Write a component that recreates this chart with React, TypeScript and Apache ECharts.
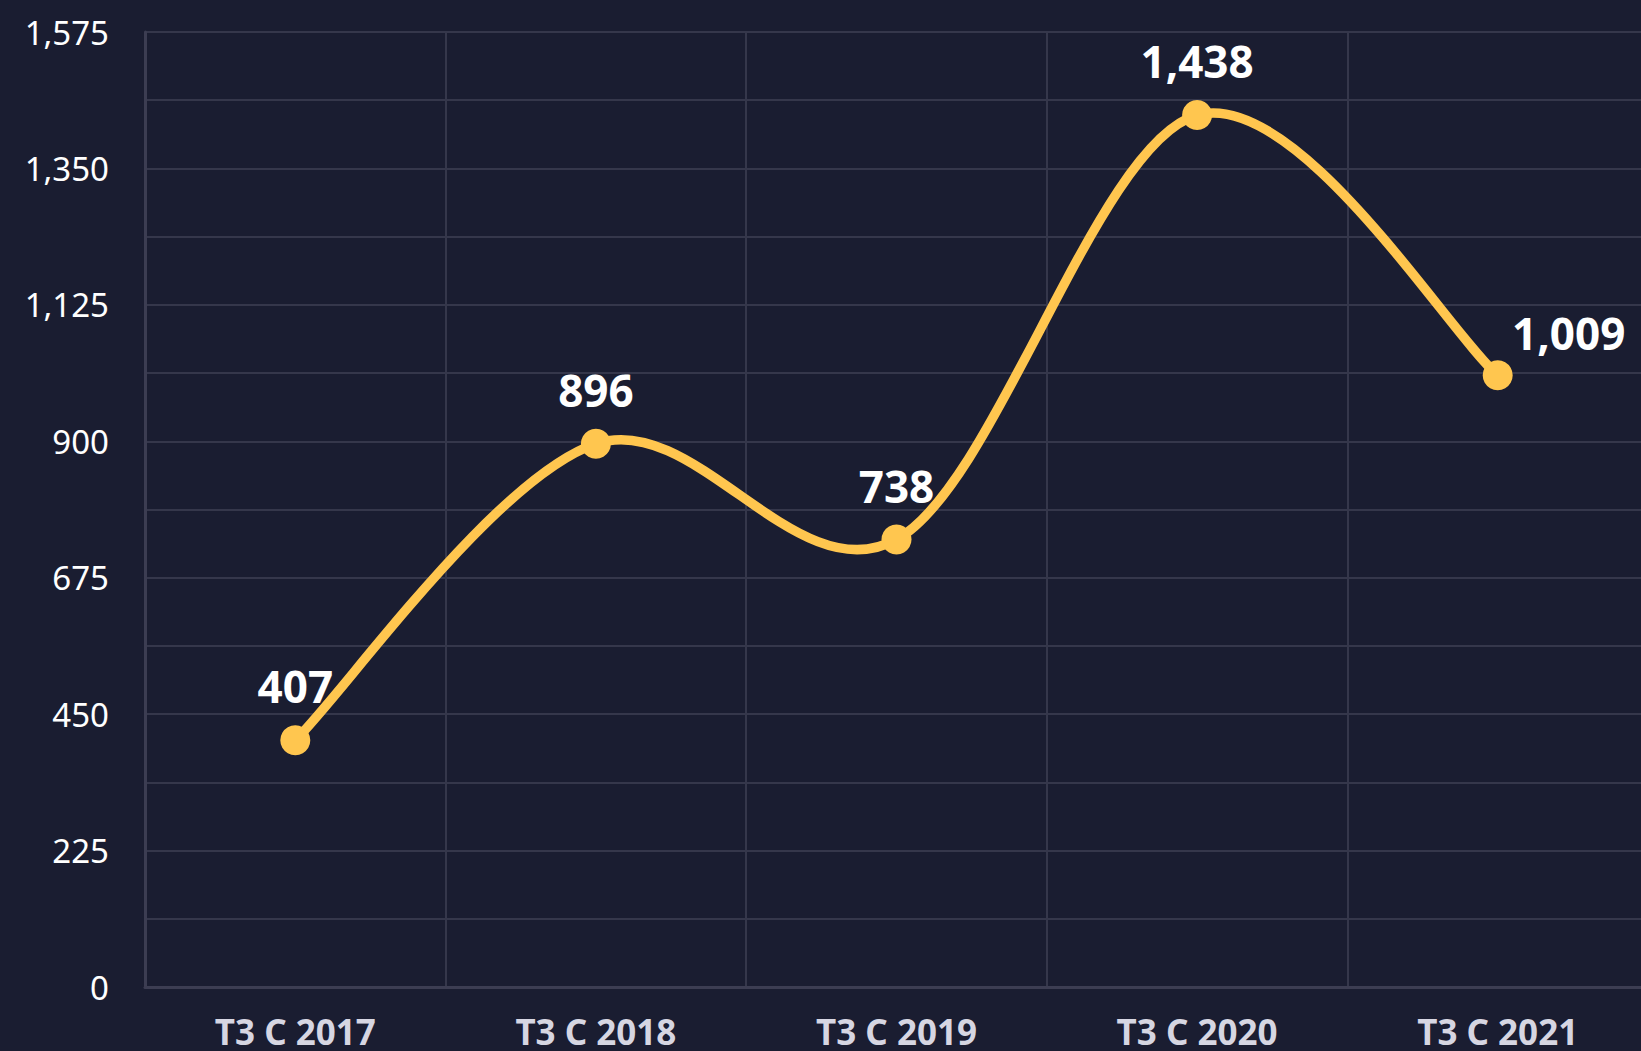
import React, { useEffect, useRef } from "react";
import * as echarts from "echarts";

const categories = ["T3 C 2017", "T3 C 2018", "T3 C 2019", "T3 C 2020", "T3 C 2021"];
const values = [407, 896, 738, 1438, 1009];
const yMin = 0;
const yMax = 1575;
const yInterval = 112.5;
const labelStep = 225;

const fmt = (v: number) => v.toLocaleString("en-US");

const CHART_W = 1660;
const CHART_H = 1051;

export default function App() {
  const ref = useRef<HTMLDivElement>(null);
  useEffect(() => {
    const chart = echarts.init(ref.current!, undefined, { renderer: "svg" });
    const font = "'Noto Sans', sans-serif";
    const gridColor = "#35374b";
    const lineColor = "#ffc64f";
    const n = values.length;
    chart.setOption({
      animation: false,
      backgroundColor: "#1a1d31",
      grid: { left: 145, right: CHART_W - 1648, top: 32, bottom: 64, containLabel: false },
      xAxis: {
        type: "category",
        data: categories,
        boundaryGap: true,
        axisLine: { show: true, lineStyle: { color: "#3c3d52", width: 3 } },
        axisTick: { show: false },
        splitLine: { show: true, lineStyle: { color: gridColor, width: 2 } },
        axisLabel: {
          color: "#d6d6e2",
          fontFamily: font,
          fontWeight: "bold",
          fontSize: 35,
          margin: 27,
        },
      },
      yAxis: {
        type: "value",
        min: yMin,
        max: yMax,
        interval: yInterval,
        axisLine: { show: true, lineStyle: { color: "#3c3d52", width: 3 } },
        axisTick: { show: false },
        splitLine: { show: true, lineStyle: { color: gridColor, width: 2 } },
        axisLabel: {
          color: "#ffffff",
          fontFamily: font,
          fontSize: 33,
          margin: 36,
          formatter: (v: number) => (Math.abs(v % labelStep) < 1e-6 ? fmt(v) : ""),
        },
      },
      series: [
        {
          type: "custom",
          silent: true,
          z: 2,
          data: values.map((v, i) => [i, v]),
          renderItem: (params: any, api: any) => {
            const i = params.dataIndex;
            if (i >= n - 1) return null;
            const pt = (k: number) => {
              const c = Math.max(0, Math.min(n - 1, k));
              return api.coord([c, values[c]]);
            };
            const p0 = pt(i - 1);
            const p1 = pt(i);
            const p2 = pt(i + 1);
            const p3 = pt(i + 2);
            return {
              type: "bezierCurve",
              shape: {
                x1: p1[0],
                y1: p1[1],
                x2: p2[0],
                y2: p2[1],
                cpx1: p1[0] + (p2[0] - p0[0]) / 6,
                cpy1: p1[1] + (p2[1] - p0[1]) / 6,
                cpx2: p2[0] - (p3[0] - p1[0]) / 6,
                cpy2: p2[1] - (p3[1] - p1[1]) / 6,
              },
              style: { stroke: lineColor, lineWidth: 9.5, fill: "none", lineCap: "round" },
            };
          },
        },
        {
          type: "line",
          z: 3,
          data: values.map((v, i) =>
            i === n - 1 ? { value: v, label: { offset: [71, 12] } } : v
          ),
          symbol: "circle",
          symbolSize: 30,
          lineStyle: { width: 0, opacity: 0 },
          itemStyle: { color: lineColor },
          label: {
            show: true,
            position: "top",
            distance: 17,
            color: "#ffffff",
            fontFamily: font,
            fontWeight: "bold",
            fontSize: 44,
            formatter: (p: any) => fmt(p.value),
          },
        },
      ],
    });
    return () => chart.dispose();
  }, []);
  return (
    <div
      ref={ref}
      style={{ position: "fixed", left: 0, top: 0, width: CHART_W, height: CHART_H }}
    />
  );
}
